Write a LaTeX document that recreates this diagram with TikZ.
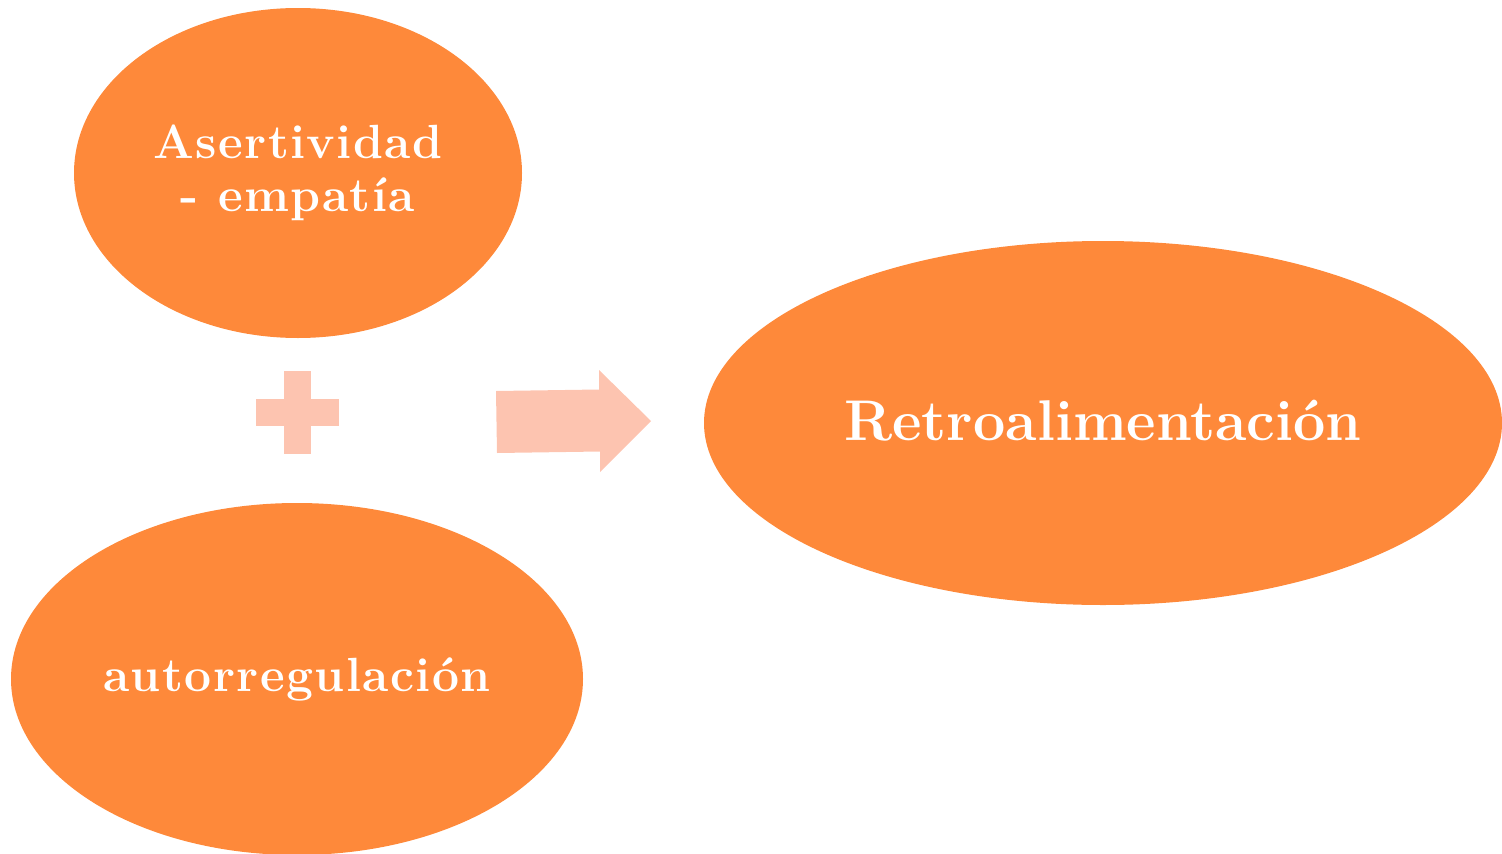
\documentclass[tikz,border=0pt]{standalone}
\usepackage{fontspec}
\usetikzlibrary{shapes.geometric}
\definecolor{orangefill}{RGB}{254,137,58}
\definecolor{salmon}{RGB}{253,196,176}
\newfontfamily\spacedbold[LetterSpace=3]{Latin Modern Roman}
\tikzset{
  bubble/.style={ellipse, fill=orangefill, draw=none, inner sep=0pt, outer sep=0pt},
  bubbletext/.style={text=white, align=center, inner sep=0pt,
    font=\spacedbold\bfseries\fontsize{48}{53}\selectfont},
  bigtext/.style={bubbletext, font=\normalfont\bfseries\fontsize{57.4}{60}\selectfont},
  connector/.style={fill=salmon, draw=none}
}
\begin{document}
\begin{tikzpicture}[x=1pt,y=-1pt]
\useasboundingbox (0,0) rectangle (1502,854);
\node[bubble, minimum width=448pt, minimum height=330pt,
  label={[name=asertext, bubbletext]center:Asertividad\\- empatía}] (aser) at (298,173) {};
\node[bubble, minimum width=572pt, minimum height=352pt,
  label={[name=autotext, bubbletext]center:autorregulación}] (auto) at (297,679) {};
\node[bubble, minimum width=798pt, minimum height=364pt,
  label={[name=retrotext, bigtext, yshift=2pt]center:Retroalimentación}] (retro) at (1103,423) {};
% plus sign
\coordinate (plus) at (297.5,412.5);
\fill[connector] ([xshift=-13.5pt,yshift=-41.5pt]plus) rectangle ([xshift=13.5pt,yshift=41.5pt]plus);
\fill[connector] ([xshift=-41.5pt,yshift=-13.5pt]plus) rectangle ([xshift=41.5pt,yshift=13.5pt]plus);
% arrow
\fill[connector] (496,391) -- (599,389.5) -- (599,370) -- (651,421) -- (600,472) -- (600,451.5) -- (497,453) -- cycle;
\end{tikzpicture}
\end{document}
